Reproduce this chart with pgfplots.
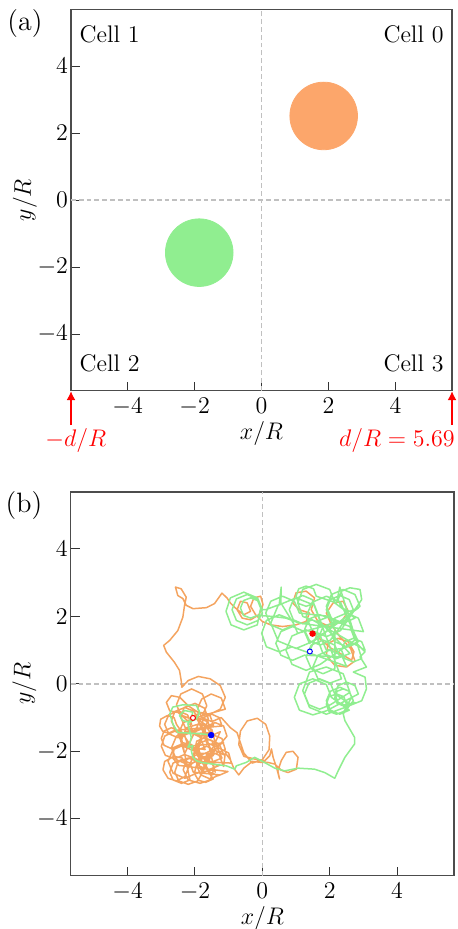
\documentclass[border=0pt]{standalone}
\usepackage{pgfplots}
\pgfplotsset{compat=1.18}
\usetikzlibrary{arrows.meta}
\definecolor{sandy}{RGB}{244,164,96}
\definecolor{circorange}{RGB}{252,166,107}
\definecolor{lgreen}{RGB}{144,238,144}
\definecolor{dgray}{RGB}{192,192,192}

\pgfplotsset{
 myaxis/.style={
  scale only axis, xmin=-5.69, xmax=5.69, ymin=-5.69, ymax=5.69,
  xtick={-4,-2,0,2,4}, ytick={-4,-2,0,2,4},
  tick align=inside, tick pos=left,
  axis line style={black!70, line width=0.6pt},
  major tick style={black!80, line width=0.5pt},
  major tick length=4.5pt,
  tick label style={font=\fontsize{11.5}{13}\selectfont},
  label style={font=\fontsize{12}{14}\selectfont},
  xlabel={$x/R$}, ylabel={$y/R$},
  xlabel style={at={(axis description cs:0.5,-0.127)}, anchor=base},
  ylabel style={at={(axis description cs:-0.121,0.5)}, anchor=center},
  yticklabel style={xshift=2pt},
  clip=false,
 },
 zeroline/.style={dgray, line width=0.75pt, dash pattern=on 2.4pt off 1.5pt, forget plot},
}

\begin{document}
\begin{tikzpicture}
\path[use as bounding box] (0,0) rectangle (229pt,-464.5pt);

% ---------------- panel (a) ----------------
\begin{axis}[myaxis, at={(35.5pt,-195.35pt)}, anchor=south west,
  width=190.5pt, height=190.65pt]
\addplot[zeroline] coordinates {(0,-5.69) (0,5.69)};
\addplot[zeroline] coordinates {(-5.69,0) (5.69,0)};
\addplot[only marks, mark=*, mark size=16.9pt, circorange] coordinates {(1.857,2.51)};
\addplot[only marks, mark=*, mark size=16.9pt, lgreen] coordinates {(-1.86,-1.57)};
\node[anchor=base west, inner sep=0, font=\fontsize{12}{14}\selectfont] at (rel axis cs:0.0218,0.912) {Cell 1};
\node[anchor=base east, inner sep=0, font=\fontsize{12}{14}\selectfont] at (rel axis cs:0.979,0.912) {Cell 0};
\node[anchor=base west, inner sep=0, font=\fontsize{12}{14}\selectfont] at (rel axis cs:0.0218,0.05) {Cell 2};
\node[anchor=base east, inner sep=0, font=\fontsize{12}{14}\selectfont] at (rel axis cs:0.979,0.05) {Cell 3};
\addplot[red, line width=1.4pt, -{Latex[length=4.5pt,width=4.5pt]}, forget plot] coordinates {(-5.69,-6.72) (-5.69,-5.70)};
\addplot[red, line width=1.4pt, -{Latex[length=4.5pt,width=4.5pt]}, forget plot] coordinates {(5.69,-6.72) (5.69,-5.70)};
\node[anchor=base, inner sep=0, red, font=\fontsize{12.3}{14}\selectfont] at (rel axis cs:0.0126,-0.147) {$-d/R$};
\node[anchor=base east, inner sep=0, red, font=\fontsize{12.3}{14}\selectfont] at (rel axis cs:1.008,-0.147) {$d/R=5.69$};
\end{axis}

% ---------------- panel (b) ----------------
\begin{axis}[myaxis, at={(35.35pt,-437.85pt)}, anchor=south west,
  width=191.65pt, height=191.85pt]
\addplot[zeroline] coordinates {(0,-5.69) (0,5.69)};
\addplot[zeroline] coordinates {(-5.69,0) (5.69,0)};
% orange trajectory
\addplot[sandy, no marks, line width=0.75pt, line join=round] coordinates {
(1.50,1.50) (1.75,1.30) (2.05,1.05) (2.40,0.85) (2.65,0.70) (2.72,0.95) (2.55,1.25) (2.25,1.35) (1.95,1.20) (1.90,0.85) (2.15,0.55) (2.50,0.50) (2.75,0.68) (2.62,1.05) (2.30,1.40) (2.05,1.75) (1.90,2.10) (2.10,2.40) (2.40,2.45) (2.55,2.15) (2.35,1.85) (2.00,1.70) (1.65,1.85) (1.45,2.20) (1.55,2.55) (1.30,2.75) (1.00,2.70) (0.90,2.40) (1.10,2.20) (1.40,2.10) (1.30,1.85) (1.00,1.75) (0.60,1.70) (0.25,1.75) (0.00,1.85)
(-0.20,2.05) (-0.35,2.30) (-0.25,2.55) (-0.05,2.60) (0.02,2.35) (-0.10,2.05) (-0.35,1.90) (-0.60,1.95) (-0.75,2.20) (-0.65,2.45) (-0.45,2.40) (-0.35,2.15) (-0.55,2.05) (-0.80,2.25) (-0.95,2.40) (-1.05,2.55) (-1.20,2.69)
(-1.42,2.38) (-1.66,2.26) (-2.06,2.23) (-2.26,2.33) (-2.36,2.53) (-2.51,2.62) (-2.58,2.87) (-2.41,2.82) (-2.26,2.57) (-2.31,2.33) (-2.36,1.98) (-2.51,1.58) (-2.75,1.29) (-2.93,1.14) (-2.85,0.94) (-2.61,0.64) (-2.46,0.40) (-2.41,0.10) (-2.39,-0.10)
(-2.20,0.10) (-1.90,0.22) (-1.55,0.15) (-1.25,-0.05) (-1.10,-0.40) (-1.25,-0.75) (-1.55,-0.90) (-1.90,-0.85) (-2.20,-0.65) (-2.45,-0.40) (-2.70,-0.35) (-2.85,-0.55) (-2.75,-0.80) (-2.50,-0.85)
(-2.10,-1.20) (-2.22,-0.92) (-2.50,-0.80) (-2.78,-0.92) (-2.90,-1.20) (-2.78,-1.48) (-2.50,-1.60) (-2.22,-1.48)
(-1.50,-1.45) (-1.62,-1.12) (-1.98,-1.00) (-2.35,-1.15) (-2.50,-1.50) (-2.35,-1.85) (-2.00,-2.00) (-1.65,-1.85)
(-1.15,-2.10) (-1.28,-1.78) (-1.60,-1.65) (-1.92,-1.78) (-2.05,-2.10) (-1.92,-2.42) (-1.60,-2.55) (-1.28,-2.42)
(-1.80,-2.30) (-1.95,-1.95) (-2.30,-1.80) (-2.65,-1.95) (-2.80,-2.30) (-2.65,-2.65) (-2.30,-2.80) (-1.95,-2.65)
(-1.45,-2.55) (-1.55,-2.85) (-1.85,-2.95) (-2.20,-2.85) (-2.35,-2.55) (-2.25,-2.25) (-1.95,-2.10) (-1.60,-2.20)
(-1.05,-1.55) (-1.15,-1.25) (-1.40,-1.15) (-1.65,-1.25) (-1.75,-1.50) (-1.65,-1.75) (-1.40,-1.85) (-1.15,-1.75)
(-2.20,-1.85) (-2.30,-1.55) (-2.60,-1.40) (-2.90,-1.55) (-3.00,-1.85) (-2.88,-2.12) (-2.60,-2.22) (-2.32,-2.10)
(-1.65,-0.65) (-1.78,-0.30) (-2.10,-0.15) (-2.42,-0.30) (-2.55,-0.62) (-2.42,-0.92) (-2.10,-1.05) (-1.80,-0.95)
(-1.10,-0.75) (-1.22,-0.42) (-1.52,-0.30) (-1.80,-0.45) (-1.92,-0.72) (-1.80,-1.00) (-1.50,-1.12) (-1.22,-1.00)
(-0.95,-1.30) (-0.75,-1.45) (-0.65,-1.75) (-0.55,-2.05) (-0.30,-2.35) (0.00,-2.25) (0.20,-1.95) (0.22,-1.55) (0.10,-1.20) (-0.15,-1.02) (-0.45,-1.10) (-0.65,-1.40) (-0.70,-1.80) (-0.55,-2.15) (-0.23,-2.23)
(0.07,-2.28) (0.22,-2.13) (0.27,-1.93) (0.32,-2.18) (0.42,-2.48) (0.51,-2.82) (0.46,-2.58) (0.56,-2.28) (0.71,-2.03) (0.91,-2.00) (1.06,-2.18) (1.01,-2.53) (0.76,-2.63) (0.56,-2.56) (0.37,-2.38) (0.17,-2.33) (-0.03,-2.33) (-0.30,-2.30) (-0.55,-2.50) (-0.70,-2.70) (-0.85,-2.50) (-0.95,-2.25) (-1.10,-2.05)
(-1.15,-2.45) (-1.28,-2.12) (-1.55,-2.00) (-1.85,-2.12) (-1.95,-2.42) (-1.83,-2.70) (-1.55,-2.82) (-1.27,-2.70)
(-2.05,-2.62) (-2.15,-2.35) (-2.40,-2.25) (-2.65,-2.35) (-2.75,-2.62) (-2.65,-2.85) (-2.40,-2.95) (-2.15,-2.85)
(-2.40,-1.62) (-2.48,-1.40) (-2.70,-1.30) (-2.92,-1.40) (-3.00,-1.62) (-2.92,-1.82) (-2.70,-1.92) (-2.48,-1.82)
(-1.70,-1.95) (-1.85,-1.58) (-2.20,-1.40) (-2.55,-1.55) (-2.70,-1.90) (-2.55,-2.25) (-2.20,-2.40) (-1.85,-2.25)
(-1.10,-1.95) (-1.20,-1.62) (-1.50,-1.50) (-1.80,-1.62) (-1.90,-1.92) (-1.80,-2.20) (-1.50,-2.32) (-1.20,-2.20)
(-1.40,-1.75) (-1.50,-1.35) (-1.85,-1.18) (-2.25,-1.30) (-2.42,-1.70) (-2.30,-2.10) (-1.90,-2.25) (-1.52,-2.08)
(-1.95,-2.05) (-2.10,-1.80) (-2.35,-1.75) (-2.62,-1.92) (-2.66,-2.20) (-2.48,-2.42) (-2.20,-2.45) (-2.00,-2.30)
(-0.92,-2.35) (-1.00,-2.05) (-1.30,-1.90) (-1.62,-2.02) (-1.72,-2.32) (-1.58,-2.62) (-1.30,-2.72) (-1.02,-2.60)
(-2.25,-2.45) (-2.38,-2.20) (-2.62,-2.15) (-2.90,-2.30) (-2.95,-2.55) (-2.80,-2.80) (-2.55,-2.88) (-2.30,-2.75)
(-1.60,-1.05) (-1.72,-0.72) (-2.00,-0.58) (-2.32,-0.70) (-2.42,-1.00) (-2.28,-1.32) (-2.00,-1.42) (-1.72,-1.30)
(-1.40,-2.62) (-1.48,-2.38) (-1.72,-2.30) (-1.95,-2.40) (-2.02,-2.65) (-1.90,-2.86) (-1.68,-2.92) (-1.46,-2.82)
(-2.55,-1.20) (-2.62,-1.00) (-2.82,-0.94) (-3.02,-1.05) (-3.05,-1.25) (-2.95,-1.42) (-2.78,-1.46) (-2.60,-1.38)
(-1.20,-1.25) (-1.28,-1.00) (-1.50,-0.90) (-1.75,-1.00) (-1.80,-1.25) (-1.70,-1.48) (-1.48,-1.52) (-1.25,-1.42)
(-1.80,-2.60) (-1.92,-2.30) (-2.20,-2.20) (-2.50,-2.32) (-2.60,-2.62) (-2.48,-2.88) (-2.20,-2.98) (-1.92,-2.88)
(-1.40,-1.92) (-1.50,-1.68) (-1.72,-1.60) (-1.95,-1.70) (-2.00,-1.95) (-1.88,-2.18) (-1.65,-2.22) (-1.45,-2.12)
(-1.90,-1.12) (-2.02,-0.82) (-2.30,-0.70) (-2.60,-0.82) (-2.70,-1.10) (-2.58,-1.38) (-2.30,-1.50) (-2.02,-1.38)
(-1.45,-1.22) (-1.55,-0.95) (-1.80,-0.85) (-2.05,-0.95) (-2.15,-1.20) (-2.05,-1.45) (-1.80,-1.55) (-1.55,-1.45)
(-1.70,-1.20) (-2.05,-0.99)
};
% green trajectory
\addplot[lgreen, no marks, line width=0.75pt, line join=round] coordinates {
(-1.52,-1.51) (-1.85,-1.48) (-2.20,-1.46) (-2.51,-1.44) (-2.65,-1.20) (-2.75,-0.89) (-2.66,-0.69) (-2.36,-0.62) (-1.96,-0.64) (-1.86,-0.84) (-1.96,-1.04) (-2.16,-1.14) (-2.36,-1.09) (-2.46,-0.94) (-2.31,-0.79) (-2.06,-0.84) (-2.11,-0.99) (-2.21,-1.19) (-2.16,-1.39) (-2.11,-1.59) (-2.16,-1.78) (-2.21,-1.88) (-2.06,-1.83) (-2.11,-1.98) (-2.06,-2.18) (-1.96,-2.28) (-1.81,-2.33) (-1.47,-2.38) (-1.07,-2.43) (-0.82,-2.53) (-0.77,-2.43) (-0.48,-2.33) (-0.23,-2.18) (-0.03,-2.28) (0.37,-2.50) (0.66,-2.58) (1.06,-2.50) (1.55,-2.53) (1.85,-2.63) (2.15,-2.80) (2.25,-2.58) (2.45,-2.18) (2.74,-1.78) (2.74,-1.59) (2.45,-1.09) (2.40,-0.89)
(2.70,-0.50) (2.58,-0.22) (2.30,-0.10) (2.02,-0.22) (1.90,-0.50) (2.02,-0.78) (2.30,-0.90) (2.58,-0.78)
(2.05,-0.40) (1.90,-0.02) (1.50,0.15) (1.10,0.00) (0.95,-0.40) (1.10,-0.78) (1.50,-0.92) (1.90,-0.80)
(2.85,-0.30) (2.75,-0.05) (2.50,0.05) (2.25,-0.05) (2.15,-0.30) (2.25,-0.55) (2.50,-0.65) (2.75,-0.55)
(2.50,-0.62) (2.42,-0.38) (2.20,-0.30) (1.98,-0.38) (1.90,-0.60) (1.98,-0.82) (2.20,-0.90) (2.42,-0.82)
(2.65,-0.40) (2.58,-0.22) (2.40,-0.15) (2.22,-0.22) (2.15,-0.40) (2.22,-0.58) (2.40,-0.65) (2.58,-0.58)
(2.15,-0.30) (2.02,0.02) (1.70,0.15) (1.38,0.02) (1.25,-0.30) (1.38,-0.62) (1.70,-0.75) (2.02,-0.62)
(2.60,-0.25) (2.40,0.30) (1.90,0.50) (1.40,0.35) (1.20,-0.20) (1.40,-0.70) (1.90,-0.90) (2.45,-0.70) (2.95,-0.50) (3.09,-0.15) (3.05,0.20) (2.70,0.35) (3.09,0.50) (2.90,0.80) (3.05,0.95) (2.80,1.20) (2.40,1.05)
(1.90,1.00) (1.72,1.42) (1.30,1.60) (0.88,1.42) (0.70,1.00) (0.88,0.58) (1.30,0.40) (1.72,0.58)
(2.75,1.30) (2.60,1.70) (2.20,1.85) (1.80,1.70) (1.65,1.30) (1.80,0.90) (2.20,0.75) (2.60,0.90)
(1.75,1.80) (1.55,2.33) (1.00,2.55) (0.47,2.33) (0.25,1.80) (0.47,1.27) (1.00,1.05) (1.53,1.27)
(2.90,2.30) (2.75,2.65) (2.40,2.80) (2.05,2.65) (1.90,2.30) (2.05,1.95) (2.40,1.80) (2.75,1.95)
(2.15,2.40) (2.00,2.80) (1.60,2.95) (1.20,2.80) (1.05,2.40) (1.20,2.00) (1.60,1.85) (2.00,2.00)
(1.10,2.10) (0.95,2.45) (0.60,2.60) (0.25,2.45) (0.10,2.10) (0.25,1.75) (0.60,1.60) (0.95,1.75)
(0.55,2.40) (0.56,2.87) (0.50,2.35) (0.10,2.20)
(0.00,2.20) (-0.13,2.52) (-0.45,2.65) (-0.77,2.52) (-0.90,2.20) (-0.77,1.88) (-0.45,1.75) (-0.13,1.88)
(0.00,2.10) (-0.15,2.55) (-0.55,2.72) (-0.95,2.55) (-1.08,2.15) (-0.93,1.75) (-0.55,1.60) (-0.15,1.75)
(-0.05,2.25) (-0.14,2.47) (-0.35,2.55) (-0.56,2.47) (-0.65,2.25) (-0.56,2.03) (-0.35,1.95) (-0.14,2.03)
(0.30,2.00) (0.70,1.95) (1.10,1.80)
(3.00,1.55) (2.85,1.95) (2.50,2.10) (2.15,1.95) (2.00,1.60) (2.15,1.25) (2.50,1.10) (2.85,1.25)
(2.50,2.00) (2.32,2.42) (1.90,2.60) (1.48,2.42) (1.30,2.00) (1.48,1.58) (1.90,1.40) (2.32,1.58)
(2.95,2.50) (2.90,2.80) (2.60,2.85) (2.35,2.75) (2.25,2.50) (2.35,2.25) (2.60,2.15) (2.85,2.25)
(1.40,1.20) (1.25,1.55) (0.90,1.70) (0.55,1.55) (0.40,1.20) (0.55,0.85) (0.90,0.70) (1.25,0.85)
(2.30,0.80) (2.15,1.15) (1.80,1.30) (1.45,1.15) (1.30,0.80) (1.45,0.45) (1.80,0.30) (2.15,0.45)
(2.15,1.62) (2.00,1.95) (1.70,2.05) (1.38,1.92) (1.25,1.60) (1.40,1.28) (1.72,1.15) (2.02,1.30)
(2.70,2.20) (2.58,2.50) (2.30,2.62) (2.02,2.50) (1.90,2.20) (2.02,1.92) (2.30,1.80) (2.58,1.92)
(1.05,1.50) (0.88,1.90) (0.50,2.05) (0.12,1.88) (-0.02,1.50) (0.12,1.10) (0.50,0.95) (0.88,1.10)
(2.50,0.52) (2.35,0.85) (2.00,1.00) (1.65,0.85) (1.50,0.50) (1.65,0.15) (2.00,0.02) (2.35,0.15)
(1.60,2.20) (1.48,2.50) (1.20,2.62) (0.92,2.50) (0.80,2.20) (0.92,1.90) (1.20,1.78) (1.48,1.90)
(3.05,1.00) (2.95,1.25) (2.70,1.35) (2.45,1.25) (2.35,1.00) (2.45,0.75) (2.70,0.65) (2.95,0.75)
(2.30,2.87) (2.20,2.40) (1.60,2.60) (1.52,2.82) (1.30,2.90) (1.08,2.82) (1.00,2.60) (1.08,2.38) (1.30,2.30) (1.52,2.38)
(1.70,1.90) (1.60,1.40) (1.40,0.97)
};
\addplot[only marks, mark=*, mark size=1.4pt, red] coordinates {(1.49,1.49)};
\addplot[only marks, mark=*, mark size=1.4pt, blue] coordinates {(-1.52,-1.52)};
\addplot[only marks, mark=*, mark size=1.25pt, mark options={draw=red, fill=white, line width=0.5pt}] coordinates {(-2.06,-1.01)};
\addplot[only marks, mark=*, mark size=1.25pt, mark options={draw=blue, fill=white, line width=0.5pt}] coordinates {(1.41,0.96)};
\end{axis}

\node[font=\fontsize{14}{17}\selectfont, inner sep=0] at (12.5pt,-12pt) {(a)};
\node[font=\fontsize{14}{17}\selectfont, inner sep=0] at (12pt,-253pt) {(b)};
\end{tikzpicture}
\end{document}
